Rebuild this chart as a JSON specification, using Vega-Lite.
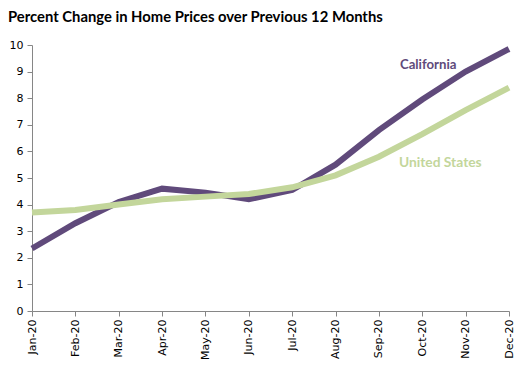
{
  "$schema": "https://vega.github.io/schema/vega-lite/v6.json",
  "width": 477,
  "height": 266,
  "autosize": {"type": "none"},
  "padding": {"left": 32, "top": 45, "right": 18, "bottom": 59},
  "background": "white",
  "title": {
    "text": "Percent Change in Home Prices over Previous 12 Months",
    "anchor": "start",
    "frame": "group",
    "font": "Lato",
    "fontSize": 14.8,
    "fontWeight": "bold",
    "color": "#000000",
    "dx": -24,
    "offset": 12
  },
  "config": {
    "view": {"stroke": null},
    "axis": {
      "labelFont": "DejaVu Sans",
      "labelFontSize": 11,
      "labelColor": "#000000",
      "domainColor": "#868686",
      "tickColor": "#868686",
      "tickSize": 5,
      "grid": false,
      "title": null
    }
  },
  "datasets": {
    "series": [
      {"month": "Jan-20", "series": "California", "value": 2.35},
      {"month": "Feb-20", "series": "California", "value": 3.3},
      {"month": "Mar-20", "series": "California", "value": 4.1},
      {"month": "Apr-20", "series": "California", "value": 4.6},
      {"month": "May-20", "series": "California", "value": 4.45},
      {"month": "Jun-20", "series": "California", "value": 4.2},
      {"month": "Jul-20", "series": "California", "value": 4.55},
      {"month": "Aug-20", "series": "California", "value": 5.5},
      {"month": "Sep-20", "series": "California", "value": 6.8},
      {"month": "Oct-20", "series": "California", "value": 7.95},
      {"month": "Nov-20", "series": "California", "value": 9.0},
      {"month": "Dec-20", "series": "California", "value": 9.85},
      {"month": "Jan-20", "series": "United States", "value": 3.7},
      {"month": "Feb-20", "series": "United States", "value": 3.8},
      {"month": "Mar-20", "series": "United States", "value": 4.0},
      {"month": "Apr-20", "series": "United States", "value": 4.2},
      {"month": "May-20", "series": "United States", "value": 4.3},
      {"month": "Jun-20", "series": "United States", "value": 4.4},
      {"month": "Jul-20", "series": "United States", "value": 4.65},
      {"month": "Aug-20", "series": "United States", "value": 5.1},
      {"month": "Sep-20", "series": "United States", "value": 5.8},
      {"month": "Oct-20", "series": "United States", "value": 6.65},
      {"month": "Nov-20", "series": "United States", "value": 7.55},
      {"month": "Dec-20", "series": "United States", "value": 8.4}
    ],
    "labels": [
      {"month": "Sep-20", "series": "California", "value": 9.25},
      {"month": "Sep-20", "series": "United States", "value": 5.55}
    ]
  },
  "encoding": {
    "x": {
      "field": "month",
      "type": "ordinal",
      "sort": null,
      "scale": {"type": "point", "padding": 0, "domain": ["Jan-20","Feb-20","Mar-20","Apr-20","May-20","Jun-20","Jul-20","Aug-20","Sep-20","Oct-20","Nov-20","Dec-20"]},
      "axis": {"labelAngle": -90, "labelPadding": 3, "labelFont": "DejaVu Sans", "labelFontSize": 11}
    },
    "y": {
      "field": "value",
      "type": "quantitative",
      "scale": {"domain": [0, 10], "nice": false},
      "axis": {"values": [0,1,2,3,4,5,6,7,8,9,10], "labelPadding": 4, "labelFont": "DejaVu Sans", "labelFontSize": 11}
    },
    "color": {
      "field": "series",
      "type": "nominal",
      "scale": {"domain": ["California", "United States"], "range": ["#604a7b", "#c3d69b"]},
      "legend": null
    }
  },
  "layer": [
    {
      "data": {"name": "series"},
      "mark": {"type": "line", "strokeWidth": 6, "strokeJoin": "miter", "strokeCap": "butt"}
    },
    {
      "data": {"name": "labels"},
      "transform": [{"filter": "datum.series === 'California'"}],
      "mark": {"type": "text", "font": "Lato", "fontSize": 13.2, "fontWeight": "bold", "align": "left", "baseline": "middle", "dx": 21},
      "encoding": {"text": {"field": "series"}}
    },
    {
      "data": {"name": "labels"},
      "transform": [{"filter": "datum.series === 'United States'"}],
      "mark": {"type": "text", "font": "Lato", "fontSize": 13.8, "fontWeight": "bold", "align": "left", "baseline": "middle", "dx": 20},
      "encoding": {"text": {"field": "series"}}
    }
  ]
}
